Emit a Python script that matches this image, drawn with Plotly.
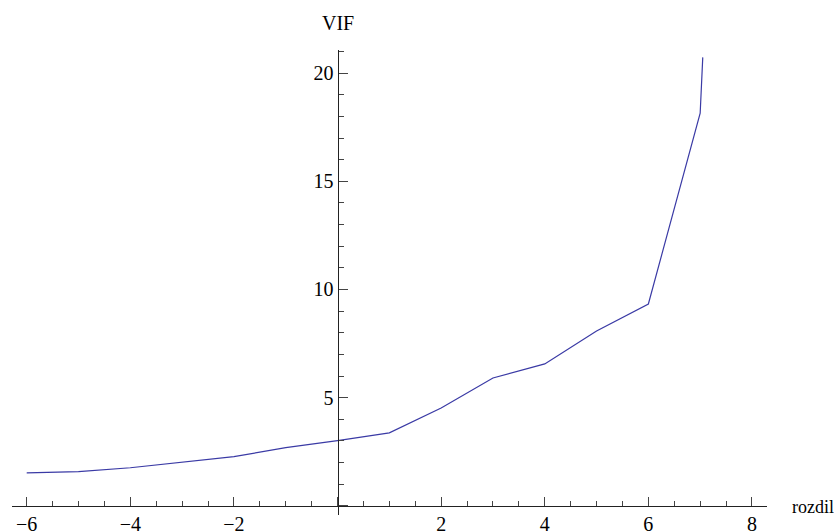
import plotly.graph_objects as go

# Data
rozdil = [-6, -5, -4, -3, -2, -1, 0, 1, 2, 3, 4, 5, 6, 7, 7.05]
vif = [1.52, 1.58, 1.76, 2.01, 2.27, 2.69, 3.01, 3.37, 4.52, 5.91, 6.56, 8.08, 9.33, 18.15, 20.73]

x_tick_vals = [-6, -4, -2, 0, 2, 4, 6, 8]
x_tick_text = ["\u22126", "\u22124", "\u22122", "", "2", "4", "6", "8"]
y_tick_vals = [0, 5, 10, 15, 20]
y_tick_text = ["", "5", "10", "15", "20"]

x_minor = [v / 2 for v in range(-12, 17) if v % 4 != 0]
y_minor = [v for v in range(0, 22) if v % 5 != 0]

xmin, xmax = -6.284, 8.29
ymin, ymax = -0.425, 21.07

fig = go.Figure()
fig.add_trace(go.Scatter(x=rozdil, y=vif, mode="lines",
                         line=dict(color="rgb(58,58,165)", width=1.2),
                         hoverinfo="skip", showlegend=False))

font = dict(family="Liberation Serif", size=20, color="black")
font_small = dict(family="Liberation Serif", size=18, color="black")

fig.update_layout(
    width=834, height=532,
    margin=dict(l=12, r=67, t=50, b=17, autoexpand=False),
    plot_bgcolor="white", paper_bgcolor="white",
    font=font,
    xaxis=dict(
        range=[xmin, xmax], showgrid=False, zeroline=False, automargin=False,
        showline=True, linecolor="#222", linewidth=1,
        anchor="free", position=(0 - ymin) / (ymax - ymin), side="bottom",
        tickmode="array", tickvals=x_tick_vals, ticktext=x_tick_text,
        ticks="inside", ticklen=9, tickwidth=1, tickcolor="#444",
        tickfont=font,
        minor=dict(tickmode="array", tickvals=x_minor, ticks="inside",
                   ticklen=5, tickwidth=1, tickcolor="#444"),
    ),
    yaxis=dict(
        range=[ymin, ymax], showgrid=False, zeroline=False, automargin=False,
        showline=True, linecolor="#222", linewidth=1,
        anchor="free", position=(0 - xmin) / (xmax - xmin), side="left",
        tickmode="array", tickvals=y_tick_vals, ticktext=y_tick_text,
        ticks="inside", ticklen=9, tickwidth=1, tickcolor="#444",
        tickfont=font,
        minor=dict(tickmode="array", tickvals=y_minor, ticks="inside",
                   ticklen=5, tickwidth=1, tickcolor="#444"),
    ),
    annotations=[
        dict(text="VIF", x=0, y=1.0, xref="x", yref="paper",
             xanchor="center", yanchor="bottom", yshift=14,
             showarrow=False, font=font),
        dict(text="rozdil", x=1.0, y=0, xref="paper", yref="y",
             xanchor="left", yanchor="middle", xshift=23, yshift=-1,
             showarrow=False, font=font_small),
    ],
)

fig.write_html(
    "out.html",
    config={"responsive": False, "displayModeBar": False},
    post_script="document.body.style.margin='0';document.body.style.overflow='hidden';",
)
